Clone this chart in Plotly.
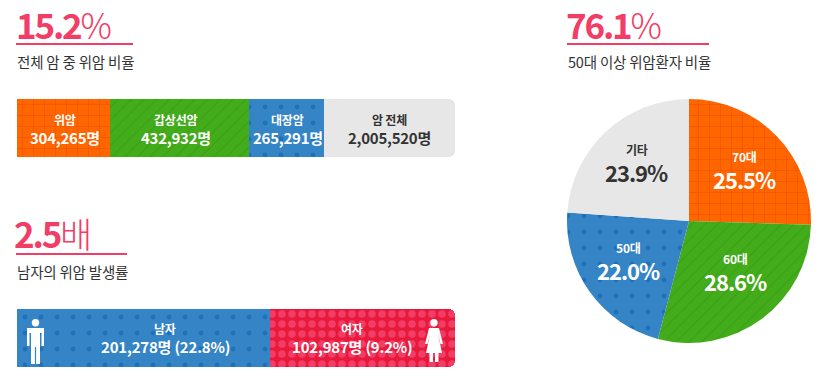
import plotly.graph_objects as go

W, H = 821, 378
FONT = "Noto Sans CJK KR"
PINK = "#F23D66"
DARK = "#333333"

# Data
cancer_names = ["위암", "갑상선암", "대장암", "암 전체"]
cancer_counts = ["304,265명", "432,932명", "265,291명", "2,005,520명"]
cancer_lengths = [93, 139, 75, 131]   # drawn length of each segment

sex_names = ["남자", "여자"]
sex_counts = ["201,278명 (22.8%)", "102,987명 (9.2%)"]
sex_lengths = [253, 185]

age_names = ["70대", "60대", "50대", "기타"]
age_shares = [25.5, 28.6, 22.0, 23.9]

headlines = ["15.2", "2.5", "76.1"]
headline_units = ["%", "배", "%"]
subtitles = ["전체 암 중 위암 비율", "남자의 위암 발생률", "50대 이상 위암환자 비율"]

# Styles
cancer_fill = ["#FF6600", "#43AC1A", "#3585C6", "#E7E7E7"]
cancer_fg = ["#F25200", "#3A9E17", "#1F70BA", "#E7E7E7"]
cancer_shape = ["+", "/", ".", ""]
cancer_size = [11, 9, 16, 8]
cancer_solid = [0.12, 0.12, 0.07, 0.1]
cancer_text = ["white", "white", "white", DARK]
sex_fill = ["#3585C6", "#E8193A"]
sex_fg = ["#1F70BA", "#F23D66"]
sex_shape = [".", "."]


def px(x):
    return x / W


def py(y):
    return 1 - y / H


fig = go.Figure()
annotations = []
shapes = []


def label(x, y, text, size, color, weight=500, xanchor="center", spacing=0, box=None):
    annotations.append(dict(x=px(x), y=py(y), xref="paper", yref="paper",
                            text=f"<span style='letter-spacing:{spacing}px'>{text}</span>", showarrow=False,
                            xanchor=xanchor, yanchor="middle", borderpad=0, borderwidth=0,
                            height=box,
                            font=dict(family=FONT, size=size, color=color, weight=weight)))


def stacked(lengths, fills, fgs, shapes_, sizes, solid, xaxis, yaxis):
    for v, fill, fg, sh, sz, so in zip(lengths, fills, fgs, shapes_, sizes, solid):
        fig.add_trace(go.Bar(
            x=[v], y=[0], orientation="h", xaxis=xaxis, yaxis=yaxis, showlegend=False, hoverinfo="skip",
            marker=dict(color=fill, line=dict(width=0),
                        pattern=dict(shape=sh, fgcolor=fg, bgcolor=fill, size=sz, solidity=so, fgopacity=1)),
        ))


stacked(cancer_lengths, cancer_fill, cancer_fg, cancer_shape, cancer_size, cancer_solid, "x", "y")
stacked(sex_lengths, sex_fill, sex_fg, sex_shape, [16, 10], [0.07, 0.45], "x2", "y2")

fig.add_trace(go.Pie(
    values=age_shares, labels=age_names, sort=False, direction="clockwise", rotation=0,
    textinfo="none", hoverinfo="skip", showlegend=False,
    domain=dict(x=[px(567), px(811)], y=[py(343), py(99)]),
    marker=dict(colors=cancer_fill, line=dict(width=0),
                pattern=dict(shape=cancer_shape, fgcolor=cancer_fg, bgcolor=cancer_fill,
                             size=cancer_size, solidity=cancer_solid, fgopacity=1)),
))

# Headlines, rules, subtitles
head_pos = [(15, 23.3), (13, 232), (565, 23.3)]
rule_pos = [(16, 133, 44), (16, 127, 254), (567, 709, 44)]
sub_pos = [(17, 62), (17, 271), (568, 62)]
for i in range(3):
    x, y = head_pos[i]
    txt = (f"<span style='font-weight:700;letter-spacing:-2.2px'>{headlines[i]}</span>"
           f"<span style='font-weight:300'>{headline_units[i]}</span>")
    annotations.append(dict(x=px(x), y=py(y), xref="paper", yref="paper", text=txt, showarrow=False,
                            xanchor="left", yanchor="middle", borderpad=0,
                            font=dict(family=FONT, size=35, color=PINK)))
    x0, x1, ry = rule_pos[i]
    shapes.append(dict(type="line", xref="paper", yref="paper", x0=px(x0), x1=px(x1), y0=py(ry), y1=py(ry),
                       line=dict(color=PINK, width=2)))
    sx, sy = sub_pos[i]
    label(sx, sy, subtitles[i], 14.5, DARK, 400, "left", -0.2)

# Bar texts
cancer_cx = [65, 176, 287.5, 389.5]
for n, c, cx, col in zip(cancer_names, cancer_counts, cancer_cx, cancer_text):
    label(cx, 119, n, 12, col, 700, spacing=-0.2)
    label(cx, 137, c, 15, col, 700, spacing=-0.25)
sex_cx = [165, 352]
for n, c, cx in zip(sex_names, sex_counts, sex_cx):
    label(cx, 328, n, 12, "white", 700, spacing=-0.2)
    label(cx, 346, c, 15, "white", 700, spacing=-0.2)

# Pie texts
age_text_pos = [(744, 156, 178.5), (735.5, 258, 280.5), (628, 247, 269.5), (636.5, 150, 172.5)]
age_text_col = ["white", "white", "white", DARK]
for n, s, (x, y1, y2), col in zip(age_names, age_shares, age_text_pos, age_text_col):
    label(x, y1, n, 12, col, 700, spacing=-0.2)
    label(x, y2, f"{s:.1f}%", 22, col, 700, spacing=-1.0)


# Person icons
def person(cx, top, female):
    s = []
    s.append(dict(type="circle", xref="paper", yref="paper", x0=px(cx - 3.7), x1=px(cx + 3.7),
                  y0=py(top + 7.4), y1=py(top), fillcolor="white", line_width=0))
    if female:
        p = [(-5, 9), (5, 9), (9, 25), (6.5, 25), (4, 15), (8, 34), (4.5, 34), (4.5, 43), (1, 43), (1, 34),
             (-1, 34), (-1, 43), (-4.5, 43), (-4.5, 34), (-8, 34), (-4, 15), (-6.5, 25), (-9, 25)]
    else:
        p = [(-8.5, 9), (8.5, 9), (8.5, 27), (6, 27), (6, 14), (4.5, 14), (4.5, 45), (0.6, 45), (0.6, 28),
             (-0.6, 28), (-0.6, 45), (-4.5, 45), (-4.5, 14), (-6, 14), (-6, 27), (-8.5, 27)]
    path = "M" + " L".join(f"{px(cx + a):.5f},{py(top + b):.5f}" for a, b in p) + " Z"
    s.append(dict(type="path", xref="paper", yref="paper", path=path, fillcolor="white", line_width=0))
    return s


shapes += person(35.5, 319, False)
shapes += person(434, 319, True)

axis_off = dict(visible=False, fixedrange=True)
fig.update_layout(
    width=W, height=H, margin=dict(l=0, r=0, t=0, b=0), autosize=False,
    paper_bgcolor="white", plot_bgcolor="rgba(0,0,0,0)",
    barmode="stack", bargap=0, barcornerradius=6,
    xaxis=dict(domain=[px(17), px(455)], range=[0, sum(cancer_lengths)], anchor="y", **axis_off),
    yaxis=dict(domain=[py(157), py(99)], range=[-0.5, 0.5], anchor="x", **axis_off),
    xaxis2=dict(domain=[px(17), px(455)], range=[0, sum(sex_lengths)], anchor="y2", **axis_off),
    yaxis2=dict(domain=[py(367), py(309)], range=[-0.5, 0.5], anchor="x2", **axis_off),
    annotations=annotations, shapes=shapes, font=dict(family=FONT),
)

fig.write_html("out.html", config=dict(displayModeBar=False, responsive=False),
               post_script="document.body.style.margin='0';document.body.style.overflow='hidden';")
